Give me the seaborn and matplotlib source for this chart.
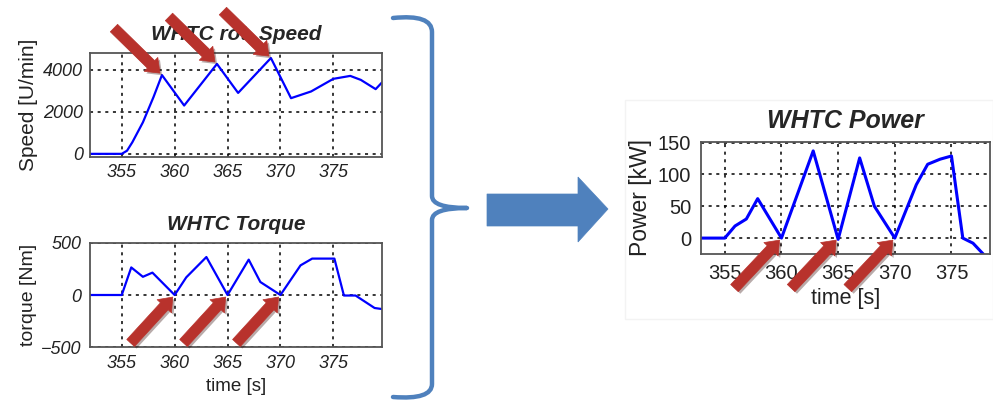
import numpy as np
import pandas as pd
import seaborn as sns
import matplotlib.pyplot as plt
import matplotlib.patheffects as pe
from matplotlib.path import Path
from matplotlib.patches import PathPatch, Polygon, Rectangle
from matplotlib import font_manager

sns.set_theme(style="white")
plt.rcParams['font.family'] = ['Liberation Sans', 'DejaVu Sans']

# ---- data ----
t_speed = [352, 355, 355.5, 356, 357, 358, 358.8, 360.9, 364.0, 366.0, 369.1, 371.0,
           372.9, 375.0, 376.6, 377.6, 379.0, 379.6]
speed = [0, 0, 150, 550, 1500, 2700, 3750, 2300, 4280, 2900, 4560, 2650,
         2970, 3570, 3710, 3520, 3080, 3400]

t_torque = [352, 355, 355.9, 357.0, 357.9, 360.0, 361.1, 363.0, 365.0, 367.0, 368.1,
            370.0, 371.9, 373.0, 375.1, 376.0, 377.1, 378.9, 379.6]
torque = [0, 0, 265, 175, 215, 0, 170, 365, 0, 340, 125,
          0, 285, 350, 350, -5, -5, -125, -135]

t_power = [352.9, 355, 355.9, 356.9, 357.9, 360, 362.8, 365, 366.9, 368.2, 370,
           371.9, 372.9, 374, 375, 376, 376.9, 377.8]
power = [0, 0, 19, 30, 62, 0, 137, -2, 126, 50, 0,
         84, 116, 124, 129, 0, -8, -25]

x_ticks = [355, 360, 365, 370, 375]
speed_ticks = [0, 2000, 4000]
torque_ticks = [-500, 0, 500]
power_ticks = [0, 50, 100, 150]

# where the red arrows point (time)
speed_peaks = [358.8, 364.0, 369.1]
torque_zeros = [360.0, 365.0, 370.0]
power_zeros = [360.0, 365.0, 370.0]

W, H = 993, 401
BLUE = "#0000FF"
RED = "#B8322C"
STEEL = "#4F81BD"

names = {f.name for f in font_manager.fontManager.ttflist}
narrow = 'Liberation Sans Narrow' if 'Liberation Sans Narrow' in names else 'Liberation Sans'

fig = plt.figure(figsize=(W / 100, H / 100), dpi=100)
fig.patch.set_facecolor("white")


def px_axes(l, t, r, b):
    return fig.add_axes([l / W, 1 - b / H, (r - l) / W, (b - t) / H])


def style(ax, tick_font, tick_style, size, pad=4):
    ax.set_facecolor("white")
    ax.grid(True, color="black", linestyle=(0, (2, 3)), linewidth=1.1)
    for s in ax.spines.values():
        s.set_color("#555555")
        s.set_linewidth(1.3)
    ax.tick_params(direction="in", length=3, color="#333333", pad=pad)
    for lab in ax.get_xticklabels() + ax.get_yticklabels():
        lab.set_family(tick_font)
        lab.set_style(tick_style)
        lab.set_fontsize(size)
        lab.set_color("#222222")


def red_arrow(ax, x, y, dx, dy):
    ax.annotate("", xy=(x, y), xytext=(dx, dy), textcoords="offset pixels",
                annotation_clip=False, zorder=20,
                arrowprops=dict(arrowstyle="simple,head_length=0.9,head_width=1.4,tail_width=0.75",
                                mutation_scale=10, fc=RED, ec=RED, lw=0.5,
                                shrinkA=0, shrinkB=2,
                                path_effects=[pe.SimplePatchShadow(offset=(1.5, -1.5), alpha=0.35),
                                              pe.Normal()]))


# ---- speed ----
ax1 = px_axes(90, 53, 382, 157)
sns.lineplot(x=t_speed, y=speed, ax=ax1, color=BLUE, linewidth=1.6)
ax1.set_xlim(352, 379.6)
ax1.set_ylim(-150, 4800)
ax1.set_xticks(x_ticks)
ax1.set_yticks(speed_ticks)
style(ax1, 'Liberation Sans', 'italic', 13, pad=5)
ax1.set_title("WHTC rot. Speed", fontsize=15, fontweight="bold", fontstyle="italic", pad=9)
ax1.set_ylabel("Speed [U/min]", fontsize=15, color="#222222", labelpad=4)
for t in speed_peaks:
    v = np.interp(t, t_speed, speed)
    red_arrow(ax1, t, v, -48, 47)

# ---- torque ----
ax2 = px_axes(90, 243, 382, 347)
sns.lineplot(x=t_torque, y=torque, ax=ax2, color=BLUE, linewidth=1.6)
ax2.set_xlim(352, 379.6)
ax2.set_ylim(-500, 500)
ax2.set_xticks(x_ticks)
ax2.set_yticks(torque_ticks)
style(ax2, 'Liberation Sans', 'italic', 13, pad=6)
ax2.set_title("WHTC Torque", fontsize=15, fontweight="bold", fontstyle="italic", pad=9)
ax2.set_ylabel("torque [Nm]", fontsize=14, color="#222222", labelpad=3)
ax2.set_xlabel("time [s]", fontsize=13.5, color="#222222", labelpad=4)
for t in torque_zeros:
    red_arrow(ax2, t, 0, -44, -48)

# ---- power ----
ax3 = px_axes(701, 142, 990, 254)
sns.lineplot(x=t_power, y=power, ax=ax3, color=BLUE, linewidth=2.2)
ax3.set_xlim(352.9, 378.4)
ax3.set_ylim(-25, 151)
ax3.set_xticks(x_ticks)
ax3.set_yticks(power_ticks)
style(ax3, narrow, 'normal', 14.5, pad=7)
ax3.set_title("WHTC Power", fontsize=18, fontweight="bold", fontstyle="italic", pad=10)
ax3.set_ylabel("Power [kW]", fontsize=16.5, color="#222222", labelpad=4)
ax3.set_xlabel("time [s]", fontsize=15.5, color="#222222", labelpad=4, family=narrow)
for t in power_zeros:
    red_arrow(ax3, t, 0, -47, -50)

# ---- overlay: brace and big arrow in pixel coords ----
ov = fig.add_axes([0, 0, 1, 1], zorder=-1)
ov.set_xlim(0, W)
ov.set_ylim(H, 0)
ov.axis("off")

ov.add_patch(Rectangle((625, 100), 368, 219, fill=False, ec="#F3F3F3", lw=1))

verts = [(393, 18), (432, 14), (432, 32),
         (432, 196), (432, 208), (467, 208),
         (432, 208), (432, 220),
         (432, 384), (432, 400), (393, 397)]
codes = [Path.MOVETO, Path.CURVE3, Path.CURVE3,
         Path.LINETO, Path.CURVE3, Path.CURVE3,
         Path.CURVE3, Path.CURVE3,
         Path.LINETO, Path.CURVE3, Path.CURVE3]
ov.add_patch(PathPatch(Path(verts, codes), fill=False, ec=STEEL, lw=3.2,
                       capstyle="round", joinstyle="round"))

ov.add_patch(Polygon([(487, 194), (578, 194), (578, 177), (608, 209),
                      (578, 242), (578, 226), (487, 226)],
                     closed=True, fc=STEEL, ec=STEEL, lw=0.5))

fig.savefig("out.png", dpi=100)
